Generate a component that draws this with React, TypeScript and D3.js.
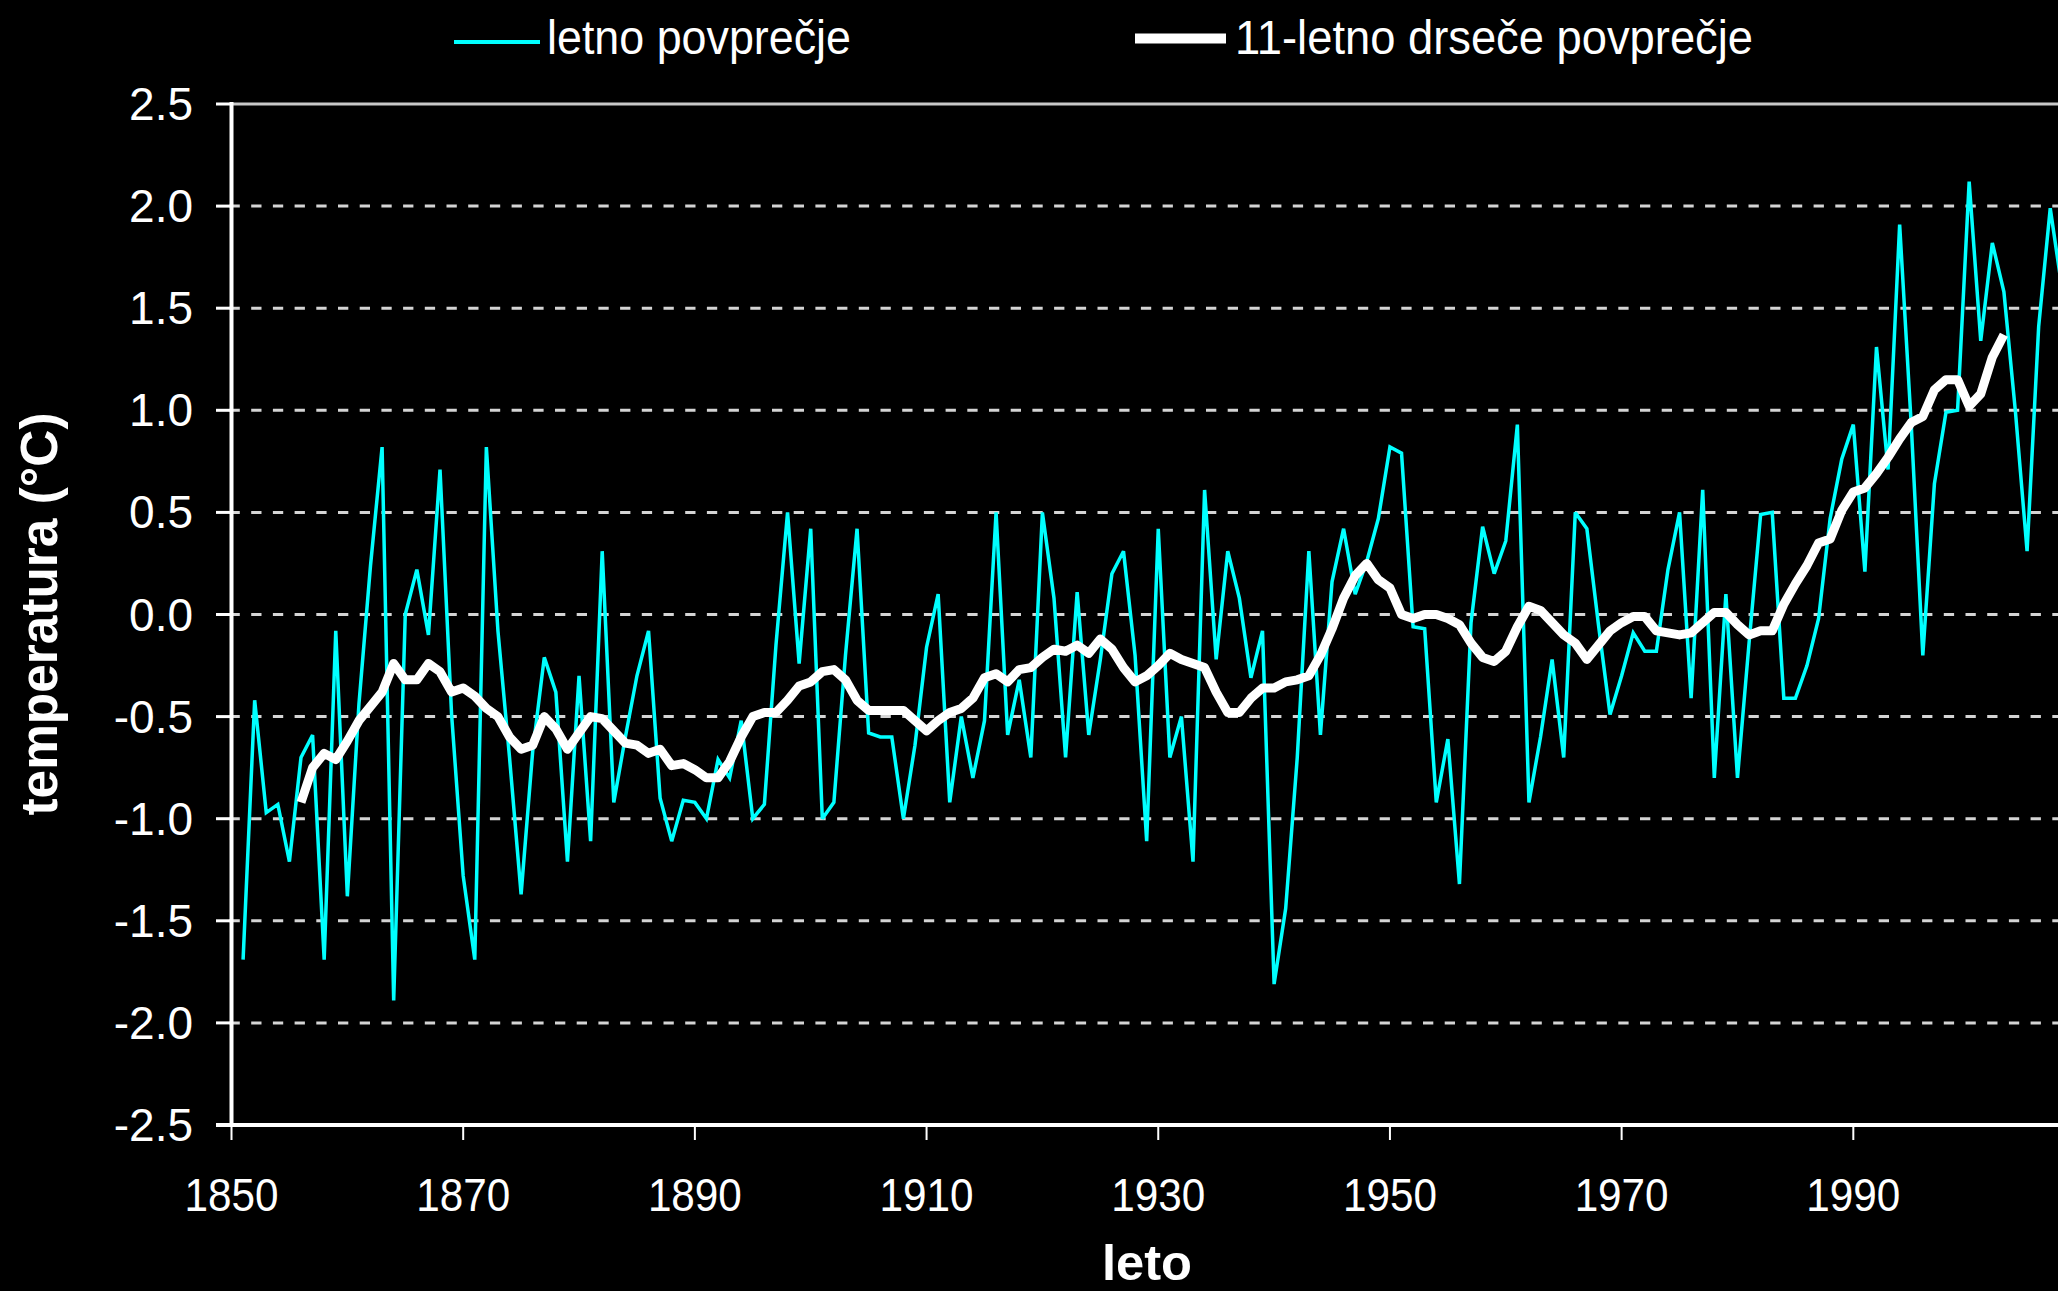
import React from "react";
import * as d3 from "d3";

// annual mean temperature anomaly, one value per year starting 1851
const firstYear = 1851;
const annualValues = [
  // 1851-1860
  -1.69, -0.42, -0.97, -0.93, -1.21, -0.70, -0.59, -1.69, -0.08, -1.38,
  // 1861-1870
  -0.44, 0.24, 0.82, -1.89, 0.0, 0.22, -0.10, 0.71, -0.49, -1.28,
  // 1871-1880
  -1.69, 0.82, -0.08, -0.70, -1.37, -0.67, -0.21, -0.38, -1.21, -0.30,
  // 1881-1890
  -1.11, 0.31, -0.92, -0.60, -0.30, -0.08, -0.90, -1.11, -0.91, -0.92,
  // 1891-1900
  -1.0, -0.71, -0.80, -0.52, -1.0, -0.93, -0.15, 0.50, -0.24, 0.42,
  // 1901-1910
  -1.0, -0.92, -0.20, 0.42, -0.58, -0.60, -0.60, -1.0, -0.64, -0.16,
  // 1911-1920
  0.10, -0.92, -0.50, -0.80, -0.52, 0.50, -0.59, -0.32, -0.70, 0.50,
  // 1921-1930
  0.08, -0.70, 0.11, -0.59, -0.22, 0.20, 0.31, -0.20, -1.11, 0.42,
  // 1931-1940
  -0.70, -0.50, -1.21, 0.61, -0.22, 0.31, 0.08, -0.31, -0.08, -1.81,
  // 1941-1950
  -1.44, -0.70, 0.31, -0.59, 0.16, 0.42, 0.10, 0.26, 0.47, 0.82,
  // 1951-1960
  0.79, -0.06, -0.07, -0.92, -0.61, -1.32, -0.04, 0.43, 0.20, 0.36,
  // 1961-1970
  0.93, -0.92, -0.60, -0.22, -0.70, 0.50, 0.42, -0.05, -0.49, -0.30,
  // 1971-1980
  -0.09, -0.18, -0.18, 0.22, 0.50, -0.41, 0.61, -0.80, 0.10, -0.80,
  // 1981-1990
  -0.14, 0.49, 0.50, -0.41, -0.41, -0.25, -0.02, 0.47, 0.76, 0.93,
  // 1991-2000
  0.21, 1.31, 0.71, 1.91, 0.93, -0.20, 0.64, 0.99, 1.0, 2.12,
  // 2001-2008
  1.34, 1.82, 1.58, 0.99, 0.31, 1.41, 1.99, 1.6,
];

// 11-year running mean, starting 1856
const maFirstYear = 1856;
const movingAvgValues = [
  // 1856-1860
  -0.92, -0.75, -0.68, -0.71, -0.62,
  // 1861-1870
  -0.52, -0.45, -0.38, -0.24, -0.32, -0.32, -0.24, -0.28, -0.38, -0.36,
  // 1871-1880
  -0.40, -0.46, -0.50, -0.60, -0.66, -0.64, -0.50, -0.56, -0.66, -0.58,
  // 1881-1890
  -0.50, -0.51, -0.57, -0.63, -0.64, -0.68, -0.66, -0.74, -0.73, -0.76,
  // 1891-1900
  -0.80, -0.80, -0.72, -0.60, -0.50, -0.48, -0.48, -0.42, -0.35, -0.33,
  // 1901-1910
  -0.28, -0.27, -0.32, -0.42, -0.47, -0.47, -0.47, -0.47, -0.52, -0.57,
  // 1911-1920
  -0.52, -0.48, -0.46, -0.41, -0.31, -0.29, -0.33, -0.27, -0.26, -0.21,
  // 1921-1930
  -0.17, -0.18, -0.15, -0.19, -0.12, -0.17, -0.26, -0.33, -0.30, -0.25,
  // 1931-1940
  -0.19, -0.22, -0.24, -0.26, -0.38, -0.48, -0.48, -0.41, -0.36, -0.36,
  // 1941-1950
  -0.33, -0.32, -0.30, -0.20, -0.07, 0.08, 0.19, 0.25, 0.17, 0.13,
  // 1951-1960
  0.0, -0.02, 0.0, 0.0, -0.02, -0.05, -0.14, -0.21, -0.23, -0.18,
  // 1961-1970
  -0.06, 0.04, 0.02, -0.04, -0.10, -0.14, -0.22, -0.15, -0.08, -0.04,
  // 1971-1980
  -0.01, -0.01, -0.08, -0.09, -0.10, -0.09, -0.04, 0.01, 0.01, -0.05,
  // 1981-1990
  -0.10, -0.08, -0.08, 0.05, 0.15, 0.24, 0.35, 0.37, 0.51, 0.60,
  // 1991-2000
  0.62, 0.69, 0.77, 0.86, 0.94, 0.97, 1.10, 1.15, 1.15, 1.02,
  // 2001-2003
  1.08, 1.26, 1.37,
];

const yTicks = [2.5, 2.0, 1.5, 1.0, 0.5, 0.0, -0.5, -1.0, -1.5, -2.0, -2.5];
const gridValues = [2.0, 1.5, 1.0, 0.5, 0.0, -0.5, -1.0, -1.5, -2.0];
const xTicks = [1850, 1870, 1890, 1910, 1930, 1950, 1970, 1990];

const legendItems = ["letno povprečje", "11-letno drseče povprečje"];
const yTitle = "temperatura (°C)";
const xTitle = "leto";

const W = 2058;
const H = 1291;
const font = "'Liberation Sans', Arial, sans-serif";

export default function App() {
  const x = d3.scaleLinear().domain([1850, 2010]).range([231.5, 2085]);
  const y = d3.scaleLinear().domain([-2.5, 2.5]).range([1125, 104]);

  const line = d3
    .line<[number, number]>()
    .x((d) => x(d[0]))
    .y((d) => y(d[1]));

  const annualPts: [number, number][] = annualValues.map((v, i) => [firstYear + i, v]);
  const maPts: [number, number][] = movingAvgValues.map((v, i) => [maFirstYear + i, v]);

  const x0 = x(1850);

  return (
    <svg
      width={W}
      height={H}
      style={{ position: "absolute", left: 0, top: 0, display: "block" }}
      fontFamily={font}
    >
      <rect width={W} height={H} fill="#000" />

      {/* gridlines */}
      {gridValues.map((v) => (
        <line
          key={v}
          x1={x0 - 2}
          x2={W}
          y1={y(v)}
          y2={y(v)}
          stroke="#d4d4d4"
          strokeWidth={3}
          strokeDasharray="10.3,11.4"
        />
      ))}
      {/* top border */}
      <line x1={x0} x2={W} y1={y(2.5)} y2={y(2.5)} stroke="#c8c8c8" strokeWidth={3} />

      {/* series */}
      <path d={line(annualPts) ?? ""} fill="none" stroke="#00ffff" strokeWidth={3.5} strokeLinejoin="miter" strokeMiterlimit={3} />
      <path d={line(maPts) ?? ""} fill="none" stroke="#fff" strokeWidth={9} strokeLinejoin="round" />

      {/* y axis */}
      <line x1={x0} x2={x0} y1={y(2.5) - 2} y2={y(-2.5) + 2} stroke="#fff" strokeWidth={4} />
      {yTicks.map((v) => (
        <g key={v}>
          <line x1={216} x2={x0} y1={y(v)} y2={y(v)} stroke="#fff" strokeWidth={3} />
          <text x={193} y={y(v) + 16} fill="#fff" fontSize={46} textAnchor="end">
            {v.toFixed(1)}
          </text>
        </g>
      ))}

      {/* x axis */}
      <line x1={216} x2={W} y1={y(-2.5)} y2={y(-2.5)} stroke="#fff" strokeWidth={4} />
      {xTicks.map((t) => (
        <g key={t}>
          <line x1={x(t)} x2={x(t)} y1={y(-2.5)} y2={y(-2.5) + 15} stroke="#fff" strokeWidth={2} />
          <text
            x={x(t)}
            y={1211}
            fill="#fff"
            fontSize={46}
            textAnchor="middle"
            textLength={94}
            lengthAdjust="spacingAndGlyphs"
          >
            {t}
          </text>
        </g>
      ))}

      {/* axis titles */}
      <text
        transform="translate(57,614) rotate(-90)"
        fill="#fff"
        fontSize={51}
        fontWeight="bold"
        textAnchor="middle"
        textLength={403}
        lengthAdjust="spacingAndGlyphs"
      >
        {yTitle}
      </text>
      <text
        x={1147}
        y={1280}
        fill="#fff"
        fontSize={50}
        fontWeight="bold"
        textAnchor="middle"
        textLength={90}
        lengthAdjust="spacingAndGlyphs"
      >
        {xTitle}
      </text>

      {/* legend */}
      <line x1={454} x2={540} y1={42} y2={42} stroke="#00ffff" strokeWidth={4} />
      <text x={547} y={54} fill="#fff" fontSize={48} textLength={304} lengthAdjust="spacingAndGlyphs">
        {legendItems[0]}
      </text>
      <line x1={1135} x2={1226} y1={38.5} y2={38.5} stroke="#fff" strokeWidth={10} />
      <text x={1235} y={54} fill="#fff" fontSize={48} textLength={518} lengthAdjust="spacingAndGlyphs">
        {legendItems[1]}
      </text>
    </svg>
  );
}
